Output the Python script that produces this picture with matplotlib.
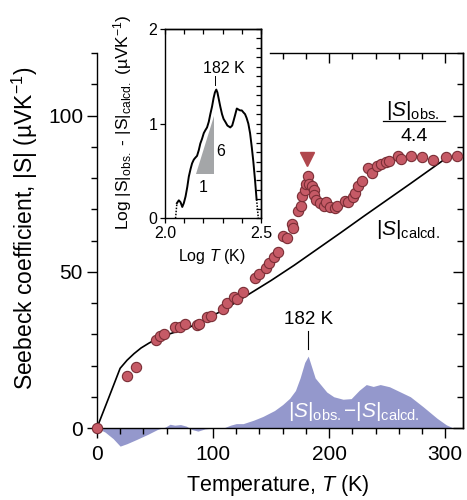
import numpy as np
import matplotlib
matplotlib.use("Agg")
import matplotlib.pyplot as plt
from matplotlib.ticker import MultipleLocator, FixedLocator, NullFormatter

plt.rcParams["font.family"] = ["Liberation Sans", "DejaVu Sans"]
plt.rcParams["mathtext.fontset"] = "custom"
plt.rcParams["mathtext.rm"] = "Liberation Sans"
plt.rcParams["mathtext.it"] = "Liberation Sans:italic"
plt.rcParams["axes.linewidth"] = 1.0

# measured |S| (uV/K) vs temperature (K)
t_obs = [0, 26.2, 33.7, 50.9, 54.3, 57.8, 67.3, 71.6, 75.9, 86.0, 88.2, 94.6, 98.0,
         108.9, 111.8, 118.1, 120.4, 126.1, 136.2, 139.9, 145.6, 148.5, 152.5, 156.2,
         160.6, 163.5, 167.8, 169.2, 173.5, 175.5, 176.4, 179.2, 180.1, 182.1, 183.0,
         185.0, 187.0, 187.0, 188.7, 192.2, 195.6, 197.3, 200.8, 205.1, 207.1, 213.7,
         216.6, 220.3, 222.3, 225.2, 228.1, 233.8, 236.7, 241.5, 244.7, 249.0, 251.9,
         259.6, 261.7, 270.3, 279.8, 289.8, 300.7, 310.4]
s_obs = [0, 16.6, 19.6, 28.1, 29.4, 30.0, 32.2, 32.4, 33.4, 32.9, 33.4, 35.4, 35.9,
         38.0, 40.0, 41.8, 41.4, 43.5, 48.1, 49.4, 51.3, 52.8, 54.7, 56.3,
         61.3, 60.9, 65.2, 64.1, 69.4, 70.9, 74.1, 76.3, 78.2, 80.5, 78.0,
         77.3, 76.3, 74.4, 73.0, 72.0, 71.2, 72.3, 70.7, 70.4, 70.9, 72.8,
         72.3, 73.9, 75.2, 77.3, 79.2, 83.3, 81.7, 84.0, 84.6, 85.1, 85.6,
         86.9, 86.2, 87.2, 86.7, 85.8, 86.7, 87.2]

# calculated |S|
t_calc = [0, 10, 20, 26, 32, 38, 45, 52, 60, 70, 80, 95, 110, 130, 150, 170, 190,
          210, 230, 250, 270, 298]
s_calc = [0, 9.5, 19.1, 21.7, 23.8, 25.6, 27.2, 28.6, 29.8, 31.0, 32.3, 35.0, 38.0,
          42.6, 47.2, 52.1, 57.3, 62.5, 67.8, 73.0, 78.2, 85.6]

# difference |S|obs - |S|calcd
t_diff = [0, 7, 14, 20, 26, 34, 44, 52, 59, 63, 67, 72, 77, 82, 87, 93, 100, 109, 115,
          120, 126, 135, 143, 153, 160, 166, 171, 175, 179, 182, 185, 188, 192, 198,
          204, 212, 219, 226, 232, 238, 244, 252, 261, 270, 281, 293, 301, 307]
s_diff = [0, -1.3, -3.4, -5.8, -5.0, -3.7, -2.0, -0.5, 0.3, 1.2, 0.9, 1.1, 0.6, -0.5,
          -1.0, -0.3, 0, 0, 0.9, 1.4, 1.4, 2.5, 3.7, 5.6, 7.5, 9.5, 12, 16, 21, 23,
          19.5, 16, 14.2, 11.5, 10, 9.2, 9.4, 12.1, 13.9, 13.3, 13.9, 13.2, 11.6, 10,
          6.8, 3.1, 1, 0]

# log-log difference for the inset
log_t = [2.062, 2.072, 2.081, 2.09, 2.098, 2.107, 2.116, 2.124, 2.133, 2.141, 2.15,
         2.158, 2.167, 2.176, 2.184, 2.193, 2.202, 2.21, 2.219, 2.228, 2.236, 2.245,
         2.253, 2.260, 2.267, 2.273, 2.279, 2.288, 2.297, 2.305, 2.314, 2.325, 2.34,
         2.35, 2.357, 2.365, 2.374, 2.382, 2.391, 2.40, 2.408, 2.417, 2.425, 2.434,
         2.443, 2.452, 2.46, 2.469, 2.477]
log_diff = [0.16, 0.19, 0.17, 0.12, 0.16, 0.23, 0.33, 0.44, 0.52, 0.58, 0.62, 0.64,
            0.66, 0.72, 0.79, 0.84, 0.90, 0.93, 0.96, 1.02, 1.10, 1.18, 1.27, 1.33,
            1.36, 1.33, 1.27, 1.18, 1.10, 1.05, 1.02, 0.98, 0.96, 0.98, 1.03, 1.09,
            1.16, 1.15, 1.14, 1.14, 1.12, 1.10, 1.06, 1.0, 0.9, 0.75, 0.6, 0.4, 0.2]

T_PEAK = 182
peak_mark = (181, 86.2)
slope_tri_x = [2.159, 2.253, 2.253]
slope_tri_y = [0.469, 0.469, 1.076]

RED = "#c65a66"
RED_EDGE = "#7a2e36"
BLUE = "#9498cc"

fig = plt.figure(figsize=(4.67, 5.0), dpi=100)
ax = fig.add_axes([0.2075, 0.144, 0.7839, 0.75])

ax.fill_between(t_diff, 0, s_diff, color=BLUE, lw=0, clip_on=False, zorder=1)
ax.plot(t_calc, s_calc, color="black", lw=1.2, zorder=2)
ax.plot(t_obs, s_obs, "o", ms=7.4, mfc=RED, mec=RED_EDGE, mew=0.8,
        clip_on=False, zorder=3)
ax.plot(*peak_mark, "v", ms=9.5, color="#b0474d", zorder=3)

ax.set_xlim(0, 315.3)
ax.set_ylim(0, 120)

for side in ("left", "bottom", "right"):
    ax.spines[side].set_linewidth(1.0)
ax.spines["top"].set_bounds(149, 315.3)

ax.xaxis.set_major_locator(MultipleLocator(100))
ax.xaxis.set_minor_locator(MultipleLocator(20))
ax.yaxis.set_major_locator(MultipleLocator(50))
ax.yaxis.set_minor_locator(MultipleLocator(10))
ax.tick_params(which="both", direction="out", top=False, right=False,
               labelsize=15, width=1.0)
ax.tick_params(which="major", length=7)
ax.tick_params(which="minor", length=4.5)
ax.tick_params(axis="x", pad=5)
ax.tick_params(axis="y", pad=3)

# inward ticks along top and right
top = ax.secondary_xaxis("top")
top.xaxis.set_major_locator(FixedLocator([200, 300]))
top.xaxis.set_minor_locator(FixedLocator([160, 180, 220, 240, 260, 280]))
top.tick_params(which="both", direction="in", labeltop=False, width=1.0)
top.tick_params(which="major", length=7)
top.tick_params(which="minor", length=4.5)
top.spines["top"].set_visible(False)

right = ax.secondary_yaxis("right")
right.yaxis.set_major_locator(MultipleLocator(50))
right.yaxis.set_minor_locator(MultipleLocator(10))
right.tick_params(which="both", direction="in", labelright=False, width=1.0)
right.tick_params(which="major", length=7)
right.tick_params(which="minor", length=4.5)

ax.set_xlabel(r"Temperature, $T$ (K)", fontsize=15.5)
ax.xaxis.label.set_va("top")
ax.xaxis.set_label_coords(0.493, -0.12)
ax.set_ylabel(r"Seebeck coefficient, |S| (µVK$^{-1}$)", fontsize=16.5)
ax.yaxis.label.set_va("center")
ax.yaxis.set_label_coords(-0.196, 0.533)

# annotations on the main panel
ax.text(272, 101.5, r"|$S$|$_{\rm obs.}$", fontsize=15, ha="center", va="center")
ax.plot([246.7, 300], [98.1, 98.1], color="black", lw=0.9)
ax.text(273, 93.2, "4.4", fontsize=14, ha="center", va="center")
ax.text(268, 63.6, r"|$S$|$_{\rm calcd.}$", fontsize=15, ha="center", va="center")
ax.text(221, 5.4, r"|$S$|$_{\rm obs.}$$-$|$S$|$_{\rm calcd.}$", fontsize=15,
        ha="center", va="center", color="white")
ax.text(T_PEAK, 34.6, f"{T_PEAK} K", fontsize=13.5, ha="center", va="center")
ax.plot([T_PEAK, T_PEAK], [25.3, 31.2], color="black", lw=0.8)

# inset: log-log difference
axi = fig.add_axes([0.3533, 0.5634, 0.2056, 0.3786])
axi.set_facecolor("white")
axi.fill(slope_tri_x, slope_tri_y, color="#a4a6a8", lw=0)
axi.plot(log_t, log_diff, color="black", lw=1.4)
axi.plot([2.055, log_t[0]], [0, log_diff[0]], color="black", lw=1.1, ls=(0, (1, 1)))
axi.plot([log_t[-1], 2.486], [log_diff[-1], 0], color="black", lw=1.1, ls=(0, (1, 1)))
axi.set_xlim(2.0, 2.5)
axi.set_ylim(0, 2)

axi.xaxis.set_major_locator(MultipleLocator(0.5))
axi.xaxis.set_minor_locator(MultipleLocator(0.1))
axi.xaxis.set_major_formatter(lambda v, p: f"{v:.1f}")
axi.yaxis.set_major_locator(MultipleLocator(1))
axi.yaxis.set_minor_locator(FixedLocator([]))
axi.tick_params(which="both", direction="out", top=False, right=False,
                labelsize=11.5, width=0.9, length=3.5, pad=2)

itop = axi.secondary_xaxis("top")
itop.xaxis.set_major_locator(MultipleLocator(0.1))
itop.tick_params(direction="in", labeltop=False, length=3.5, width=0.9)
iright = axi.secondary_yaxis("right")
iright.yaxis.set_major_locator(MultipleLocator(0.1))
iright.tick_params(direction="in", labelright=False, length=3.5, width=0.9)

axi.set_xlabel(r"Log $T$ (K)", fontsize=11.5)
axi.xaxis.label.set_va("top")
axi.xaxis.set_label_coords(0.486, -0.152)
axi.set_ylabel(r"Log |S|$_{\rm obs.}$ - |S|$_{\rm calcd.}$ (µVK$^{-1}$)", fontsize=12.5)
axi.yaxis.label.set_va("center")
axi.yaxis.set_label_coords(-0.4375, 0.51)

axi.text(2.305, 1.585, f"{T_PEAK} K", fontsize=11.5, ha="center", va="center")
axi.plot([2.26, 2.26], [1.41, 1.50], color="black", lw=0.7)
axi.text(2.292, 0.71, "6", fontsize=11.5, ha="center", va="center")
axi.text(2.200, 0.33, "1", fontsize=11.5, ha="center", va="center")

fig.savefig("out.png", dpi=100)
